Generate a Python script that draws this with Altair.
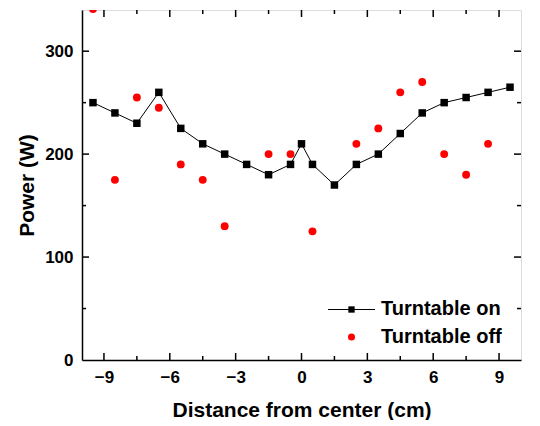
import altair as alt
import pandas as pd

on_x = [-9.5, -8.5, -7.5, -6.5, -5.5, -4.5, -3.5, -2.5, -1.5, -0.5, 0, 0.5, 1.5, 2.5, 3.5, 4.5, 5.5, 6.5, 7.5, 8.5, 9.5]
on_y = [250, 240, 230, 260, 225, 210, 200, 190, 180, 190, 210, 190, 170, 190, 200, 220, 240, 250, 255, 260, 265]

off_x = [-9.5, -8.5, -7.5, -6.5, -5.5, -4.5, -3.5, -1.5, -0.5, 0.5, 2.5, 3.5, 4.5, 5.5, 6.5, 7.5, 8.5]
off_y = [341, 175, 255, 245, 190, 175, 130, 200, 200, 125, 210, 225, 260, 270, 200, 180, 210]

x_ticks = [-9, -6, -3, 0, 3, 6, 9]
y_ticks = [0, 100, 200, 300]
legend_labels = ["Turntable on", "Turntable off"]

on_df = pd.DataFrame({"x": on_x, "y": on_y})
off_df = pd.DataFrame({"x": off_x, "y": off_y})

FONT = "Liberation Sans"
W, H = 439, 350

xs = alt.Scale(domain=[-10, 10], nice=False)
ys = alt.Scale(domain=[0, 340], nice=False)

x_axis = alt.Axis(values=x_ticks, title="Distance from center (cm)", ticks=False,
                  labelPadding=9, titlePadding=14, grid=False, domainWidth=1.5,
                  domainColor="black",
                  labelFontSize=17, labelFontWeight="bold", labelFont=FONT, labelColor="black",
                  titleFontSize=21, titleFontWeight="bold", titleFont=FONT, titleColor="black")
y_axis = alt.Axis(values=y_ticks, title="Power (W)", ticks=False,
                  labelPadding=9, titlePadding=7, grid=False, domainWidth=1.5,
                  domainColor="black",
                  labelFontSize=17, labelFontWeight="bold", labelFont=FONT, labelColor="black",
                  titleFontSize=21, titleFontWeight="bold", titleFont=FONT, titleColor="black")

minor_x = pd.DataFrame({"x": [-7.5, -4.5, -1.5, 1.5, 4.5, 7.5]})
minor_y = pd.DataFrame({"y": [50, 150, 250]})
major_x = pd.DataFrame({"x": x_ticks})
major_y = pd.DataFrame({"y": y_ticks[1:]})


def vt(df, y0, y1):
    return alt.Chart(df).mark_rule(color="black", strokeWidth=1.5).encode(
        x=alt.X("x:Q", scale=xs), y=alt.value(y0), y2=alt.value(y1))


def ht(df, x0, x1):
    return alt.Chart(df).mark_rule(color="black", strokeWidth=1.5).encode(
        y=alt.Y("y:Q", scale=ys), x=alt.value(x0), x2=alt.value(x1))


ticks = [
    vt(major_x, H, H - 7), vt(minor_x, H, H - 4),
    vt(major_x, 0, 7), vt(minor_x, 0, 4),
    ht(major_y, 0, 7), ht(minor_y, 0, 4),
    ht(major_y, W, W - 7), ht(minor_y, W, W - 4),
]

line = alt.Chart(on_df).mark_line(color="black", strokeWidth=1).encode(
    x=alt.X("x:Q", scale=xs, axis=x_axis),
    y=alt.Y("y:Q", scale=ys, axis=y_axis),
)
sq = alt.Chart(on_df).mark_point(shape="square", filled=True, color="black", size=56, opacity=1).encode(
    x=alt.X("x:Q", scale=xs), y=alt.Y("y:Q", scale=ys))
circ = alt.Chart(off_df).mark_point(shape="circle", filled=True, color="#ff0000", size=62, opacity=1, clip=True).encode(
    x=alt.X("x:Q", scale=xs), y=alt.Y("y:Q", scale=ys))

# legend
one = pd.DataFrame({"a": [0]})
lg_rule = alt.Chart(one).mark_rule(color="black", strokeWidth=1).encode(
    x=alt.value(246), x2=alt.value(293), y=alt.value(299.5))
lg_sq = alt.Chart(one).mark_point(shape="square", filled=True, color="black", size=40, opacity=1).encode(
    x=alt.value(269.5), y=alt.value(299.5))
lg_c = alt.Chart(one).mark_point(shape="circle", filled=True, color="#ff0000", size=50, opacity=1).encode(
    x=alt.value(269.5), y=alt.value(327))
lg_txt = alt.Chart(pd.DataFrame({"t": legend_labels, "yy": [299, 327]})).mark_text(
    align="left", baseline="middle", font=FONT, fontSize=20, fontWeight="bold", color="black").encode(
    x=alt.value(299), y=alt.Y("yy:Q", scale=None), text="t:N")

chart = alt.layer(line, sq, circ, *ticks, lg_rule, lg_sq, lg_c, lg_txt).properties(
    width=W, height=H,
    autosize=alt.AutoSizeParams(type="none"),
    padding={"left": 74, "top": 2, "right": 10, "bottom": 60},
).configure_view(stroke="black", strokeWidth=1.5).configure(background="white")

chart.save("out.html", embed_options={"renderer": "svg", "actions": False})
